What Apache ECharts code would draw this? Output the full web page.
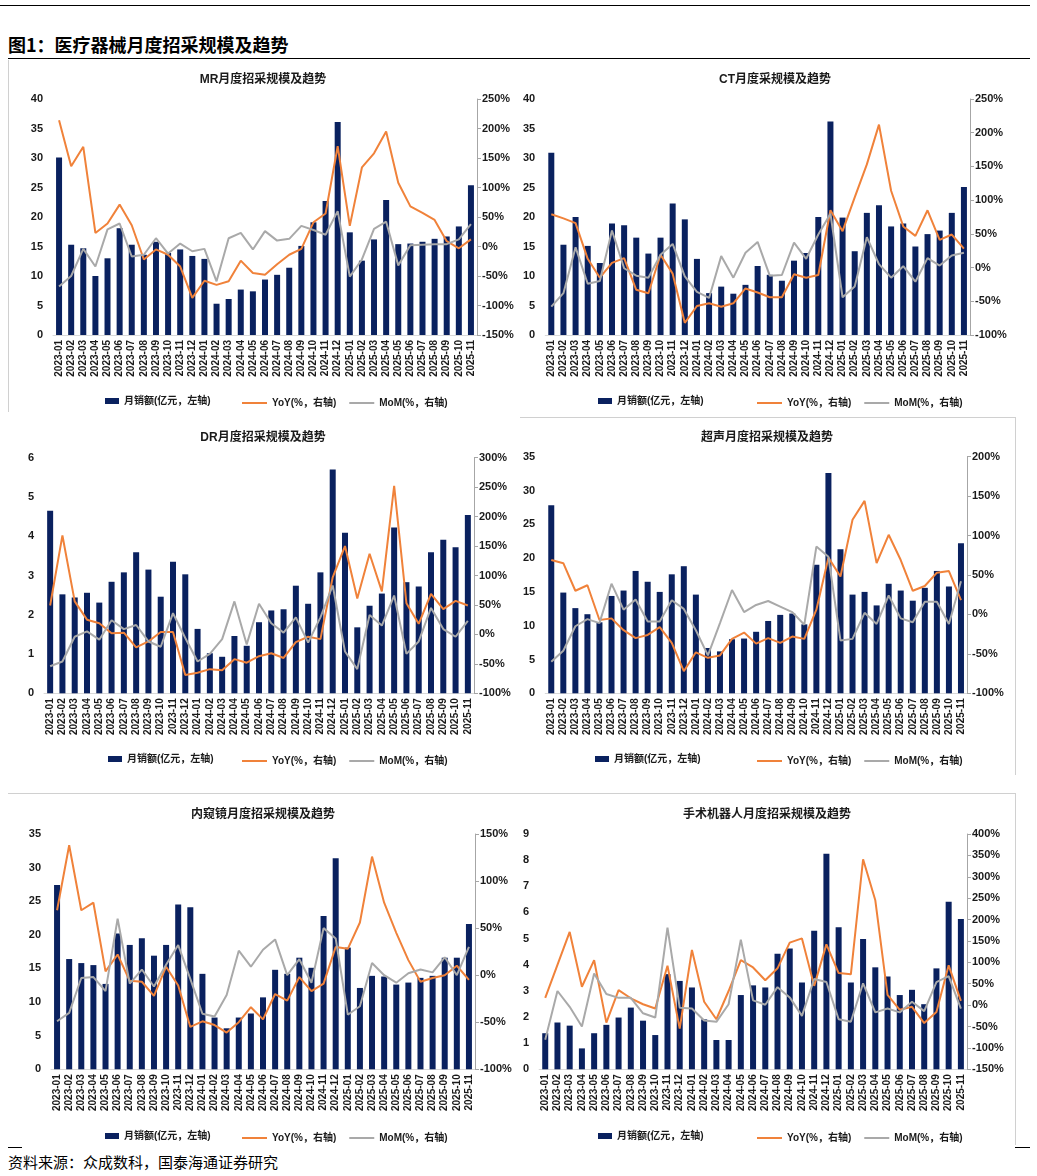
<!DOCTYPE html>
<html><head><meta charset="utf-8">
<script src="https://cdn.jsdelivr.net/npm/echarts@6/dist/echarts.min.js"></script>
<style>
body{margin:0;width:1037px;height:1176px;position:relative;background:#fff;overflow:hidden;font-family:"Liberation Sans","Noto Sans CJK SC",sans-serif}
.c{position:absolute}
.ln{position:absolute;background:#000}
.bd{position:absolute;background:#d0d0d0}
#title{position:absolute;left:8px;top:31px;font:bold 18px "Noto Sans CJK SC",sans-serif;color:#000;line-height:26px}
#foot{position:absolute;left:8px;top:1151px;font:15px "Noto Sans CJK SC",sans-serif;color:#000;line-height:22px}
</style></head><body>
<div class="ln" style="left:0;top:5px;width:1030px;height:1px"></div>
<div id="title">图1：医疗器械月度招采规模及趋势</div>
<div class="ln" style="left:8px;top:58px;width:1022px;height:1px"></div>
<div class="bd" style="left:8px;top:60px;width:1px;height:352px"></div>
<div class="bd" style="left:520px;top:417px;width:495px;height:1px"></div>
<div class="bd" style="left:1015px;top:417px;width:1px;height:358px"></div>
<div class="bd" style="left:8px;top:793px;width:1007px;height:1px"></div>
<div class="bd" style="left:1015px;top:793px;width:1px;height:352px"></div>
<div class="ln" style="left:8px;top:1147px;width:14px;height:1px"></div>
<div class="ln" style="left:1015px;top:1147px;width:15px;height:1px"></div>
<div id="p1" class="c" style="left:8px;top:60px;width:510px;height:355px"></div>
<div id="p2" class="c" style="left:520px;top:60px;width:510px;height:355px"></div>
<div id="p3" class="c" style="left:8px;top:418px;width:510px;height:355px"></div>
<div id="p4" class="c" style="left:520px;top:418px;width:494px;height:355px"></div>
<div id="p5" class="c" style="left:8px;top:795px;width:510px;height:350px"></div>
<div id="p6" class="c" style="left:520px;top:795px;width:494px;height:350px"></div>
<div id="foot">资料来源：众成数科，国泰海通证券研究</div>
<script>
const months = ['2023-01','2023-02','2023-03','2023-04','2023-05','2023-06','2023-07','2023-08','2023-09','2023-10','2023-11','2023-12',
'2024-01','2024-02','2024-03','2024-04','2024-05','2024-06','2024-07','2024-08','2024-09','2024-10','2024-11','2024-12',
'2025-01','2025-02','2025-03','2025-04','2025-05','2025-06','2025-07','2025-08','2025-09','2025-10','2025-11'];

const seriesNames = ['月销额(亿元，左轴)','YoY(%，右轴)','MoM(%，右轴)'];

// MR
const mrSales = [30.1,15.3,14.7,10.0,13.0,18.1,15.3,13.6,15.8,13.9,14.5,13.4, 12.9,5.3,6.1,7.7,7.4,9.4,10.2,11.4,15.1,19.1,22.7,36.1, 17.4,12.6,16.2,22.9,15.4,15.5,15.8,16.3,16.7,18.4,25.4];
const mrYoY = [214,136,169,23,39,71,36,-22,-5,-14,-34,-87, -58,-65,-59,-24,-45,-48,-30,-14,-4,41,56,170, 35,134,158,195,108,68,57,45,9,-3,12];
const mrMoM = [-68,-50,-4,-34,29,39,-17,-14,14,-12,5,-8, -4,-59,14,23,-5,26,10,13,35,28,20,60, -51,-22,30,42,-32,2,3,4,4,12,38];
// CT
const ctSales = [30.9,15.3,20.0,15.1,12.2,18.9,18.6,16.5,13.8,16.5,22.3,19.6, 12.9,7.1,8.2,7.0,8.5,11.7,10.2,9.2,12.6,13.9,20.0,36.2, 19.9,14.2,20.7,22.0,18.4,18.9,15.0,17.1,17.7,20.7,25.1];
const ctYoY = [79,73,66,13,-15,7,14,-33,-38,19,-9,-82, -57,-53,-58,-53,-31,-37,-44,-44,-10,-15,-11,85, 54,104,153,212,114,61,47,85,41,49,28];
const ctMoM = [-58,-38,30,-24,-20,55,-1,-12,-15,19,35,-13, -36,-45,17,-15,22,38,-12,-11,37,13,49,80, -44,-28,45,5,-15,2,-21,14,3,18,22];
// DR
const drSales = [4.65,2.52,2.44,2.56,2.31,2.84,3.08,3.59,3.15,2.46,3.35,3.03, 1.64,1.02,0.93,1.46,1.21,1.81,2.11,2.14,2.74,2.28,3.08,5.70, 4.09,1.68,2.23,2.54,4.22,2.83,2.72,3.59,3.91,3.72,4.54];
const drYoY = [49,168,56,25,19,2,3,-22,-12,4,4,-69, -65,-59,-61,-42,-48,-37,-32,-40,-13,-4,-8,97, 150,61,137,73,252,53,18,69,43,57,49];
const drMoM = [-54,-46,-4,5,-9,24,9,16,-12,-21,36,-6, -46,-33,-8,56,-17,52,19,3,29,-14,29,83, -29,-59,33,15,66,-33,-12,45,9,-4,23];
// 超声
const usSales = [27.8,14.9,12.6,11.7,10.5,14.4,15.2,18.1,16.5,15.0,17.6,18.8, 14.6,6.7,6.2,8.0,8.1,9.1,10.7,11.6,11.8,10.2,19.0,32.6, 21.3,14.6,15.0,13.0,16.2,15.2,13.7,15.6,18.1,15.8,22.2];
const usYoY = [69,65,30,37,-7,-5,-20,-30,-26,-16,-36,-72, -48,-55,-52,-31,-23,-37,-30,-36,-28,-31,6,72, 48,120,144,65,101,69,30,36,53,55,18];
const usMoM = [-60,-46,-15,-6,-11,39,6,19,-9,-9,18,7, -20,-52,-11,31,3,12,17,10,3,-13,86,73, -33,-31,2,-12,24,-5,-10,16,16,-12,42];
// 内窥镜
const enSales = [27.4,16.4,15.8,15.5,12.7,20.2,18.5,19.5,16.9,18.5,24.5,24.1, 14.2,7.7,6.1,7.7,8.3,10.7,14.8,14.2,16.6,15.1,22.8,31.4, 18.1,12.1,13.9,13.8,12.6,12.9,13.6,13.9,16.6,16.6,21.6];
const enYoY = [69,138,69,77,4,22,-6,-7,-22,9,-11,-55, -49,-53,-61,-50,-34,-47,-20,-27,-2,-17,-9,30, 28,56,126,77,45,16,-7,-3,0,10,-5];
const enMoM = [-49,-40,-3,-2,-17,60,-9,6,-12,11,32,-4, -41,-44,-21,26,9,27,38,0,17,-8,50,39, -42,-33,13,0,-8,2,6,3,19,0,30];
// 手术机器人
const rbSales = [1.38,1.79,1.67,0.80,1.38,1.70,1.98,2.36,1.86,1.31,3.64,3.38, 3.13,1.91,1.12,1.12,2.84,3.21,3.13,4.42,4.62,3.32,5.30,8.24, 5.43,3.32,4.98,3.90,3.55,2.84,3.04,2.49,3.86,6.41,5.75];
const rbYoY = [17,94,171,43,105,-41,35,16,2,-8,92,-55, 129,8,-33,33,105,88,58,86,146,156,45,142, 75,72,341,245,24,-11,-4,-42,-16,93,10];
const rbMoM = [-81,33,-4,-50,74,26,17,17,-19,-29,181,-6, -8,-36,-39,2,153,11,1,42,18,-25,61,54, -33,-39,51,-17,-8,-17,8,-14,54,68,-8];

const panelTitles = ['MR月度招采规模及趋势','CT月度采规模及趋势','DR月度招采规模及趋势','超声月度招采规模及趋势','内窥镜月度招采规模及趋势','手术机器人月度招采规模及趋势'];
const leftMax = [40,40,6,35,35,9];
const leftInterval = [5,5,1,5,5,1];
const rightMin = [-150,-100,-100,-100,-100,-150];
const rightMax = [250,250,300,200,150,400];

const BAR = '#0A215F', ORANGE = '#F0823A', GRAY = '#A9A9A9';
const TXT = '#1a1a1a';
const FONT = '"Liberation Sans","Noto Sans CJK SC",sans-serif';

// layout per panel (container px)
const layouts = [
  {gl:45, gw:424, gt:39, gh:236, la:92, lb:229, lt:331},
  {gl:23, gw:427, gt:39, gh:236, la:73, lb:232, lt:331},
  {gl:36, gw:430, gt:39.7, gh:235.6, la:95, lb:229, lt:331},
  {gl:20, gw:427, gt:38.7, gh:236.6, la:70, lb:232, lt:331},
  {gl:43, gw:424, gt:39, gh:235.3, la:92, lb:229, lt:331},
  {gl:14, gw:433, gt:39, gh:235.3, la:73, lb:232, lt:331}
];

const data = [
  [mrSales,mrYoY,mrMoM],[ctSales,ctYoY,ctMoM],[drSales,drYoY,drMoM],
  [usSales,usYoY,usMoM],[enSales,enYoY,enMoM],[rbSales,rbYoY,rbMoM]
];

function build(i){
  const L = layouts[i];
  const [s, y, m] = data[i];
  const chart = echarts.init(document.getElementById('p'+(i+1)), null, {renderer:'canvas'});
  chart.setOption({
    animation:false,
    textStyle:{fontFamily:FONT},
    title:{text:panelTitles[i], left:'center', top:9,
      textStyle:{fontSize:12, fontWeight:'bold', color:TXT, fontFamily:FONT}},
    legend:[
      {data:[{name:seriesNames[0], icon:'rect'}], left:L.la, top:L.lt, itemWidth:14, itemHeight:6,
        textStyle:{fontSize:10, fontWeight:'bold', color:TXT}},
      {data:[{name:seriesNames[1], icon:'rect', itemStyle:{color:ORANGE}}, {name:seriesNames[2], icon:'rect', itemStyle:{color:GRAY}}],
        left:L.lb, top:L.lt+2, itemWidth:25, itemHeight:2, itemGap:13,
        textStyle:{fontSize:10, fontWeight:'bold', color:TXT}}
    ],
    grid:{left:L.gl, top:L.gt, width:L.gw, height:L.gh, containLabel:false},
    xAxis:{type:'category', data:months, boundaryGap:true,
      axisLine:{lineStyle:{color:'#D9D9D9', width:1}}, axisTick:{show:false},
      axisLabel:{rotate:90, interval:0, fontSize:10, fontWeight:'bold', color:TXT, margin:5}},
    yAxis:[
      {type:'value', min:0, max:leftMax[i], interval:leftInterval[i], splitLine:{show:false},
        axisLine:{show:false}, axisTick:{show:false},
        axisLabel:{fontSize:11, fontWeight:'bold', color:TXT, margin:10}},
      {type:'value', min:rightMin[i], max:rightMax[i], interval:50, position:'right', splitLine:{show:false},
        axisLine:{show:true, lineStyle:{color:'#A6A6A6'}}, axisTick:{show:true, length:4, lineStyle:{color:'#A6A6A6'}},
        axisLabel:{fontSize:11, fontWeight:'bold', color:TXT, margin:5, formatter:'{value}%'}}
    ],
    series:[
      {name:seriesNames[0], type:'bar', data:s, barWidth:6, itemStyle:{color:BAR}, yAxisIndex:0},
      {name:seriesNames[1], type:'line', data:y, yAxisIndex:1, symbol:'none', lineStyle:{color:ORANGE, width:2}, itemStyle:{color:ORANGE}},
      {name:seriesNames[2], type:'line', data:m, yAxisIndex:1, symbol:'none', lineStyle:{color:GRAY, width:2}, itemStyle:{color:GRAY}}
    ]
  });
}
for (let i=0;i<6;i++) build(i);
</script>
</body></html>
